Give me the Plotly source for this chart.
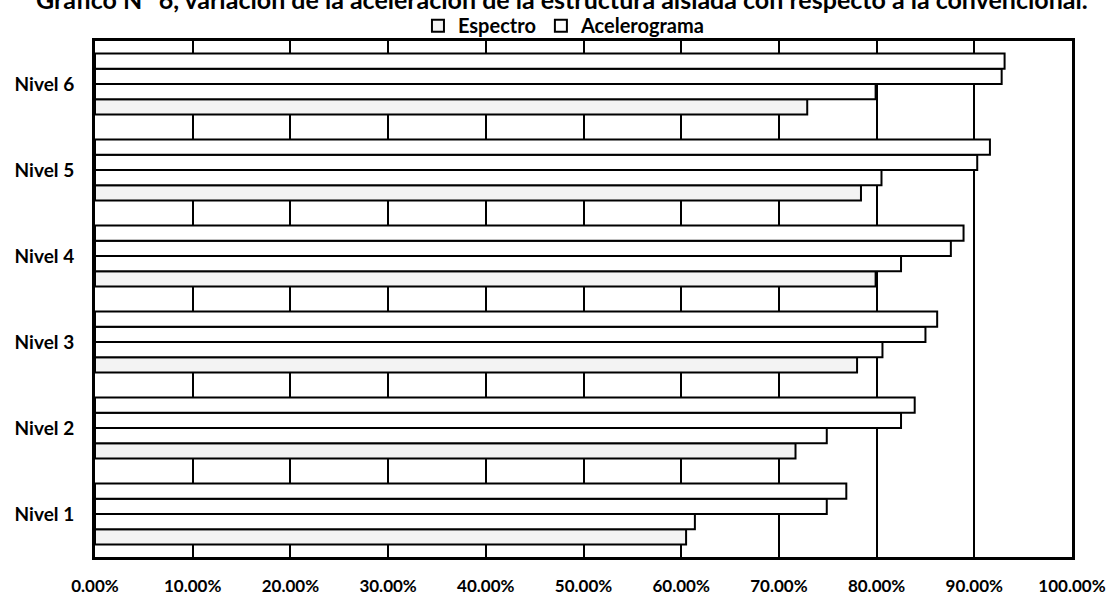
import plotly.graph_objects as go

categorias = ["Nivel 1", "Nivel 2", "Nivel 3", "Nivel 4", "Nivel 5", "Nivel 6"]
# series ordered from bottom bar of each group to top bar
espectro_x = [0.605, 0.717, 0.780, 0.799, 0.784, 0.729]
acelerograma_x = [0.614, 0.749, 0.806, 0.825, 0.805, 0.799]
espectro_y = [0.749, 0.825, 0.850, 0.876, 0.903, 0.928]
acelerograma_y = [0.769, 0.839, 0.862, 0.889, 0.916, 0.931]
tick_vals = [0.0, 0.1, 0.2, 0.3, 0.4, 0.5, 0.6, 0.7, 0.8, 0.9, 1.0]

FONT = "Lato, 'Open Sans', sans-serif"

fig = go.Figure()
series = [
    ("Espectro", espectro_x, "#f3f3f3", True, "esp"),
    ("Acelerograma", acelerograma_x, "#ffffff", True, "ace"),
    ("Espectro", espectro_y, "#ffffff", False, "esp"),
    ("Acelerograma", acelerograma_y, "#ffffff", False, "ace"),
]
for name, vals, col, show, grp in series:
    fig.add_trace(go.Bar(
        y=categorias, x=vals, orientation="h", name=name,
        showlegend=show, legendgroup=grp,
        marker=dict(color=col, line=dict(color="black", width=2)),
    ))

fig.update_layout(
    width=1117, height=597,
    paper_bgcolor="white", plot_bgcolor="white",
    margin=dict(l=95, r=45, t=41, b=40, autoexpand=False),
    barmode="group", bargap=0.29, bargroupgap=0,
    font=dict(family=FONT, color="black", size=14),
    title=dict(
        text="Gráfico N° 6, variación de la aceleración de la estructura aislada con respecto a la convencional.",
        x=0.503, xanchor="center", y=1.0, yanchor="middle", yref="container",
        font=dict(family=FONT, size=25, weight="bold", color="black"),
    ),
    legend=dict(
        orientation="h", x=0.48, xanchor="center",
        yref="container", y=0.957, yanchor="middle",
        font=dict(family=FONT, size=20, weight="bold"),
        bgcolor="rgba(0,0,0,0)",
        traceorder="normal", itemwidth=30,
    ),
    xaxis=dict(
        range=[0, 1], tickvals=tick_vals, tickformat=".2%",
        showgrid=True, gridcolor="black", gridwidth=2,
        showline=True, linecolor="black", linewidth=3, mirror=True,
        zeroline=False, ticks="", ticklabelstandoff=12,
        tickfont=dict(family=FONT, size=17, weight="bold"),
        automargin=False,
    ),
    yaxis=dict(
        categoryorder="array", categoryarray=categorias,
        showgrid=False,
        showline=True, linecolor="black", linewidth=3, mirror=True,
        ticks="", ticklabelstandoff=14,
        tickfont=dict(family=FONT, size=19, weight="bold"),
        automargin=False,
    ),
)

fig.write_html("out.html")
